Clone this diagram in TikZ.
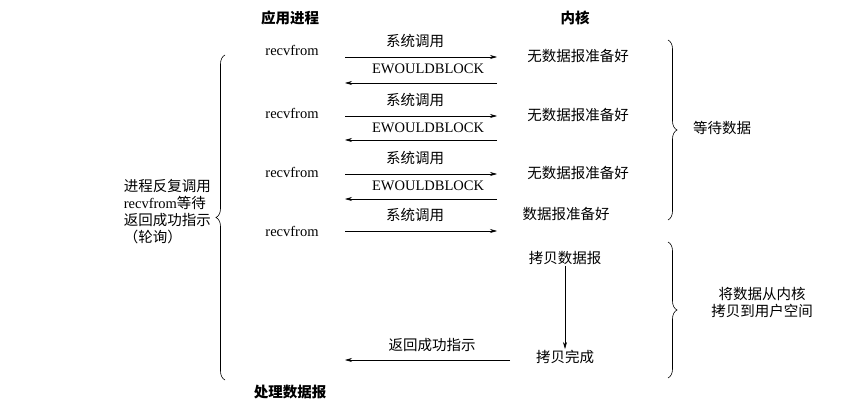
\documentclass[tikz,border=0pt]{standalone}
\usepackage{fontspec}
\setmainfont{Liberation Serif}
\newfontfamily\cjk{Noto Sans CJK SC}
\usetikzlibrary{decorations.pathreplacing,arrows.meta}
\begin{document}
\begin{tikzpicture}[x=1pt,y=-1pt,
  txt/.style={font=\cjk\fontsize{14.5}{17}\selectfont, inner sep=1pt},
  lat/.style={font=\fontsize{14.5}{17}\selectfont, inner sep=1pt},
  hd/.style={font=\cjk\bfseries\fontsize{14.5}{17}\selectfont, inner sep=1pt},
  arr/.style={-{Stealth[length=7pt,width=4pt]}, semithick},
  br/.style={decorate, decoration={brace, amplitude=9pt}, semithick}]
\useasboundingbox (0,0) rectangle (865,409);
\node[hd] (app) at (290,18) {应用进程};
\node[hd] (ker) at (575,18) {内核};
\foreach \i/\y in {1/50,2/113,3/172,4/231} \node[lat] (r\i) at (292,\y) {recvfrom};
\coordinate (a1) at (345,57); \coordinate (b1) at (497,57);
\coordinate (a2) at (345,116); \coordinate (b2) at (497,116);
\coordinate (a3) at (345,174); \coordinate (b3) at (497,174);
\coordinate (a4) at (345,231); \coordinate (b4) at (497,231);
\foreach \i in {1,2,3,4} {\draw[arr] (a\i) -- (b\i);}
\node[txt] (c1) at (415,41) {系统调用};
\node[txt] (c2) at (415,100) {系统调用};
\node[txt] (c3) at (415,158) {系统调用};
\node[txt] (c4) at (415,215) {系统调用};
\coordinate (e1) at (497,83); \coordinate (f1) at (345,83);
\coordinate (e2) at (497,140); \coordinate (f2) at (345,140);
\coordinate (e3) at (497,199); \coordinate (f3) at (345,199);
\foreach \i in {1,2,3} {\draw[arr] (e\i) -- (f\i);}
\node[lat] (w1) at (428,69) {EWOULDBLOCK};
\node[lat] (w2) at (428,128) {EWOULDBLOCK};
\node[lat] (w3) at (428,186) {EWOULDBLOCK};
\node[txt] (k1) at (578,56) {无数据报准备好};
\node[txt] (k2) at (578,115) {无数据报准备好};
\node[txt] (k3) at (578,173) {无数据报准备好};
\node[txt] (k4) at (566,214) {数据报准备好};
\node[txt] (cp) at (565,258) {拷贝数据报};
\node[txt] (done) at (565,357) {拷贝完成};
\draw[arr] (cp) -- (done);
\coordinate (g1) at (510,360); \coordinate (g2) at (345,360);
\draw[arr] (g1) -- (g2);
\node[txt] (ret) at (432,345) {返回成功指示};
\node[hd] (proc) at (290,392) {处理数据报};
\draw[br] (225,380) -- (225,55);
\node[txt, align=left, anchor=east] (poll) at (212,212) {进程反复调用\\{\rmfamily recvfrom}等待\\返回成功指示\\（轮询）};
\draw[br] (668,40) -- (668,220);
\node[txt] (wait) at (722,128) {等待数据};
\draw[br] (668,242) -- (668,378);
\node[txt, align=center] (copyd) at (762,303) {将数据从内核\\拷贝到用户空间};
\end{tikzpicture}
\end{document}
